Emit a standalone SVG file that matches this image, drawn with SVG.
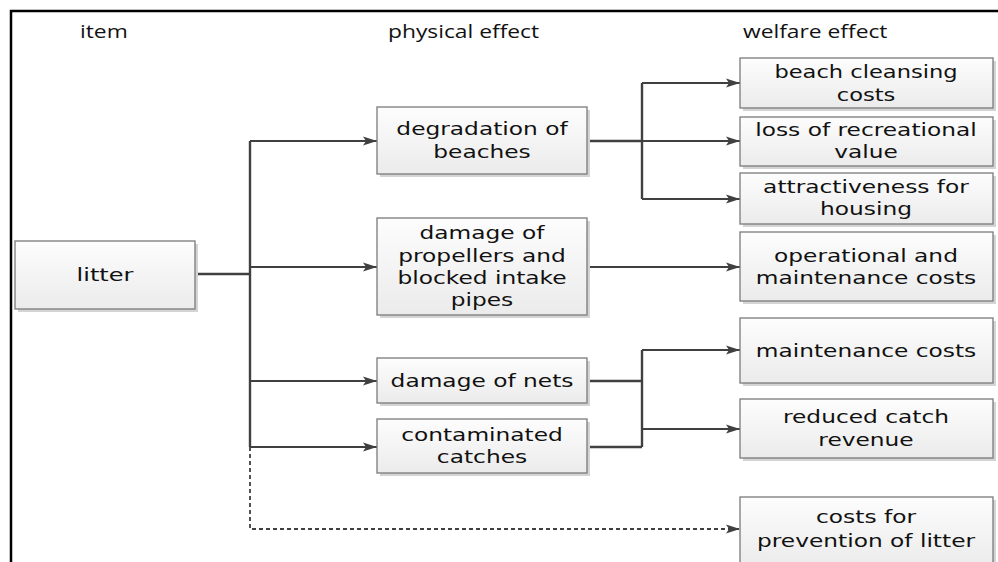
<svg xmlns="http://www.w3.org/2000/svg" width="998" height="562" viewBox="0 0 998 562">
<defs>
<linearGradient id="bg" x1="0" y1="0" x2="0" y2="1">
<stop offset="0" stop-color="#fdfdfd"/>
<stop offset="1" stop-color="#ebebeb"/>
</linearGradient>
<marker id="ah" markerUnits="userSpaceOnUse" markerWidth="16" markerHeight="10" refX="14" refY="5" orient="auto">
<path d="M0,0.5 L14,5 L0,9.5 L3,5 Z" fill="#404040"/>
</marker>
</defs>
<style>
.sh{fill:#d4d4d4}
.bx{fill:url(#bg);stroke:#7a7a7a;stroke-width:1.3}
.t{font-family:"DejaVu Sans","Open Sans",sans-serif;font-size:18.5px;fill:#111;text-anchor:middle}
.h{font-family:"Open Sans","Liberation Sans",sans-serif;font-size:19px;fill:#111;text-anchor:start}
.c{fill:none;stroke:#404040;stroke-width:1.8}
.tr{fill:none;stroke:#404040;stroke-width:2.4}
.d{fill:none;stroke:#404040;stroke-width:1.8;stroke-dasharray:4 3}
.fr{fill:none;stroke:#000;stroke-width:2.5}
</style>
<rect width="998" height="562" fill="#fff"/>
<path class="fr" d="M11,562 V11 H998"/>

<g id="headers">
<g transform="translate(80,38) scale(1.2,1)"><text class="h" x="0" y="0">item</text></g>
<g transform="translate(388,38) scale(1.2,1)"><text class="h" x="0" y="0">physical effect</text></g>
<g transform="translate(743,38) scale(1.2,1)"><text class="h" x="0" y="0">welfare effect</text></g>
</g>

<g id="connectors">
<path class="tr" d="M195,274 H250"/>
<path class="tr" d="M250,141 V447"/>
<path class="c" d="M250,141 H377" marker-end="url(#ah)"/>
<path class="c" d="M250,267 H377" marker-end="url(#ah)"/>
<path class="c" d="M250,381 H377" marker-end="url(#ah)"/>
<path class="c" d="M250,447 H377" marker-end="url(#ah)"/>
<path class="d" d="M250,447 V529 H740" marker-end="url(#ah)"/>
<path class="tr" d="M587,141 H642"/>
<path class="tr" d="M642,83 V199"/>
<path class="c" d="M642,83 H740" marker-end="url(#ah)"/>
<path class="c" d="M642,141 H740" marker-end="url(#ah)"/>
<path class="c" d="M642,199 H740" marker-end="url(#ah)"/>
<path class="c" d="M587,267 H740" marker-end="url(#ah)"/>
<path class="tr" d="M587,381 H642 M587,447 H642"/>
<path class="tr" d="M642,350 V447"/>
<path class="c" d="M642,350 H740" marker-end="url(#ah)"/>
<path class="c" d="M642,429 H740" marker-end="url(#ah)"/>
</g>

<g id="n-litter">
<rect class="sh" x="18" y="244" width="180" height="68"/>
<rect class="bx" x="15" y="241" width="180" height="68"/>
<g transform="translate(105,281) scale(1.3,1)"><text class="t">litter</text></g>
</g>

<g id="n-degradation">
<rect class="sh" x="380" y="110" width="210" height="67"/>
<rect class="bx" x="377" y="107" width="210" height="67"/>
<g transform="translate(482,135) scale(1.26,1)"><text class="t">degradation of</text></g>
<g transform="translate(482,158) scale(1.26,1)"><text class="t">beaches</text></g>
</g>

<g id="n-propellers">
<rect class="sh" x="380" y="221" width="210" height="97"/>
<rect class="bx" x="377" y="218" width="210" height="97"/>
<g transform="translate(482,239) scale(1.26,1)"><text class="t">damage of</text></g>
<g transform="translate(482,262) scale(1.26,1)"><text class="t">propellers and</text></g>
<g transform="translate(482,284) scale(1.26,1)"><text class="t">blocked intake</text></g>
<g transform="translate(482,306) scale(1.26,1)"><text class="t">pipes</text></g>
</g>

<g id="n-nets">
<rect class="sh" x="380" y="361" width="210" height="45"/>
<rect class="bx" x="377" y="358" width="210" height="45"/>
<g transform="translate(482,387) scale(1.26,1)"><text class="t">damage of nets</text></g>
</g>

<g id="n-contaminated">
<rect class="sh" x="380" y="422" width="210" height="54"/>
<rect class="bx" x="377" y="419" width="210" height="54"/>
<g transform="translate(482,441) scale(1.26,1)"><text class="t">contaminated</text></g>
<g transform="translate(482,463) scale(1.26,1)"><text class="t">catches</text></g>
</g>

<g id="n-beach-cleansing">
<rect class="sh" x="743" y="61" width="253" height="50"/>
<rect class="bx" x="740" y="58" width="253" height="50"/>
<g transform="translate(866,78) scale(1.22,1)"><text class="t">beach cleansing</text></g>
<g transform="translate(866,101) scale(1.22,1)"><text class="t">costs</text></g>
</g>

<g id="n-recreational">
<rect class="sh" x="743" y="120" width="253" height="49"/>
<rect class="bx" x="740" y="117" width="253" height="49"/>
<g transform="translate(866,136) scale(1.26,1)"><text class="t">loss of recreational</text></g>
<g transform="translate(866,158) scale(1.26,1)"><text class="t">value</text></g>
</g>

<g id="n-housing">
<rect class="sh" x="743" y="176" width="253" height="51"/>
<rect class="bx" x="740" y="173" width="253" height="51"/>
<g transform="translate(866,193) scale(1.26,1)"><text class="t">attractiveness for</text></g>
<g transform="translate(866,215) scale(1.26,1)"><text class="t">housing</text></g>
</g>

<g id="n-operational">
<rect class="sh" x="743" y="235" width="253" height="69"/>
<rect class="bx" x="740" y="232" width="253" height="69"/>
<g transform="translate(866,262) scale(1.26,1)"><text class="t">operational and</text></g>
<g transform="translate(866,284) scale(1.26,1)"><text class="t">maintenance costs</text></g>
</g>

<g id="n-maintenance">
<rect class="sh" x="743" y="321" width="253" height="65"/>
<rect class="bx" x="740" y="318" width="253" height="65"/>
<g transform="translate(866,357) scale(1.26,1)"><text class="t">maintenance costs</text></g>
</g>

<g id="n-catch-revenue">
<rect class="sh" x="743" y="402" width="253" height="59"/>
<rect class="bx" x="740" y="399" width="253" height="59"/>
<g transform="translate(866,423) scale(1.26,1)"><text class="t">reduced catch</text></g>
<g transform="translate(866,446) scale(1.26,1)"><text class="t">revenue</text></g>
</g>

<g id="n-prevention">
<rect class="sh" x="743" y="500" width="253" height="70"/>
<rect class="bx" x="740" y="497" width="253" height="70"/>
<g transform="translate(866,523) scale(1.26,1)"><text class="t">costs for</text></g>
<g transform="translate(866,547) scale(1.26,1)"><text class="t">prevention of litter</text></g>
</g>
</svg>
